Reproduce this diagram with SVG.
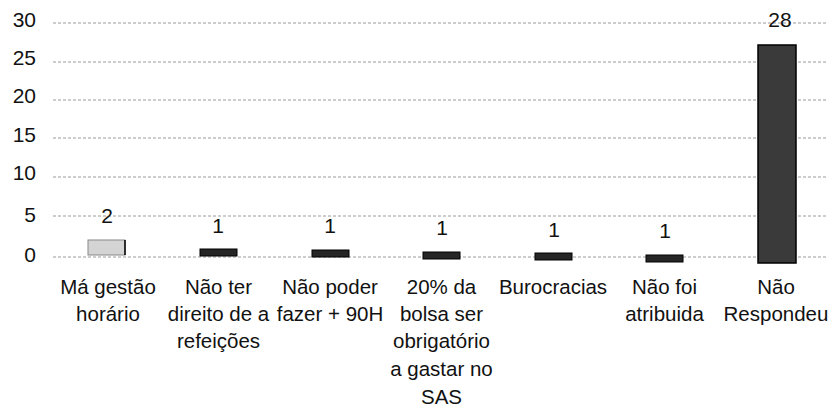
<svg xmlns="http://www.w3.org/2000/svg" width="831" height="414" viewBox="0 0 831 414">
<style>
text{font-family:"Liberation Sans",Arial,sans-serif;font-size:20.5px;fill:#111}
.ax{text-anchor:end;font-size:21px}
.c{text-anchor:middle}
.v{text-anchor:middle;font-size:21px}
.grid line{stroke:#9a9a9a;stroke-width:1;stroke-dasharray:3 2}
.small{fill:#262626;stroke:#000;stroke-width:1}
</style>
<rect width="831" height="414" fill="#fff"/>
<g class="grid">
<line x1="53" y1="23" x2="828" y2="23"/>
<line x1="53" y1="62" x2="828" y2="62"/>
<line x1="53" y1="100" x2="828" y2="100"/>
<line x1="53" y1="138" x2="828" y2="138"/>
<line x1="53" y1="177" x2="828" y2="177"/>
<line x1="53" y1="216" x2="828" y2="216"/>
<line x1="53" y1="257" x2="828" y2="257"/>
</g>
<g id="axis">
<text class="ax" x="36" y="27">30</text>
<text class="ax" x="36" y="65">25</text>
<text class="ax" x="36" y="103">20</text>
<text class="ax" x="36" y="142">15</text>
<text class="ax" x="36" y="180">10</text>
<text class="ax" x="36" y="222">5</text>
<text class="ax" x="36" y="262">0</text>
</g>
<g id="bar1">
<rect x="88" y="240" width="37" height="15" fill="#d4d4d4" stroke="#888" stroke-width="1"/>
<line x1="125" y1="240" x2="125" y2="255" stroke="#000" stroke-width="1.5"/>
<text class="v" x="107" y="223">2</text>
<text class="c" x="108" y="294">Má gestão</text>
<text class="c" x="108" y="321">horário</text>
</g>
<g id="bar2">
<rect class="small" x="200" y="249" width="37" height="7"/>
<text class="v" x="218" y="233">1</text>
<text class="c" x="218.5" y="294">Não ter</text>
<text class="c" x="218.5" y="321">direito de a</text>
<text class="c" x="218.5" y="348">refeições</text>
</g>
<g id="bar3">
<rect class="small" x="312" y="250" width="37" height="7"/>
<text class="v" x="330" y="233">1</text>
<text class="c" x="330" y="294">Não poder</text>
<text class="c" x="330" y="321">fazer + 90H</text>
</g>
<g id="bar4">
<rect class="small" x="423" y="252" width="37" height="7"/>
<text class="v" x="442" y="235">1</text>
<text class="c" x="441.5" y="294">20% da</text>
<text class="c" x="441.5" y="321">bolsa ser</text>
<text class="c" x="441.5" y="348">obrigatório</text>
<text class="c" x="441.5" y="376">a gastar no</text>
<text class="c" x="441.5" y="404">SAS</text>
</g>
<g id="bar5">
<rect class="small" x="535" y="253" width="37" height="7"/>
<text class="v" x="554" y="237">1</text>
<text class="c" x="553" y="294">Burocracias</text>
</g>
<g id="bar6">
<rect class="small" x="646" y="255" width="37" height="7"/>
<text class="v" x="665" y="238">1</text>
<text class="c" x="664.5" y="294">Não foi</text>
<text class="c" x="664.5" y="321">atribuida</text>
</g>
<g id="bar7">
<rect x="758" y="45" width="38" height="218" fill="#3a3a3a" stroke="#000" stroke-width="1.5"/>
<text class="v" x="780" y="27">28</text>
<text class="c" x="776" y="294">Não</text>
<text class="c" x="776" y="321">Respondeu</text>
</g>
</svg>
